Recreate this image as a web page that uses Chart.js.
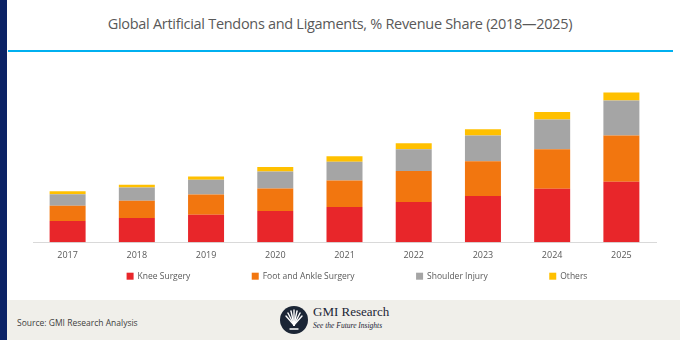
<!DOCTYPE html>
<html>
<head>
<meta charset="utf-8">
<script src="https://cdn.jsdelivr.net/npm/chart.js@4.4.1/dist/chart.umd.min.js"></script>
<style>
    html, body { margin: 0; padding: 0; }
    body { width: 680px; height: 340px; position: relative; overflow: hidden; background: #fff; font-family: 'Open Sans', sans-serif; }
    .stripe { position: absolute; left: 0; top: 0; width: 7px; height: 340px; background: #0b2265; }
    .title { position: absolute; left: 7px; right: 7px; top: 14px; text-align: center; font-size: 14.5px; color: #595959; letter-spacing: -0.3px; }
    .rule { position: absolute; left: 8px; width: 665px; top: 50px; height: 2px; background: #00b0f0; }
    .wrap { position: absolute; left: 20px; top: 60px; width: 650px; height: 236px; }
    .footer { position: absolute; left: 7px; right: 0; top: 300px; height: 40px; background: #f0efea; }
    .source { position: absolute; left: 10px; top: 17px; font-size: 8.5px; color: #404040; }
    .logo { position: absolute; left: 273px; top: 6px; width: 28px; height: 28px; border-radius: 50%; background: #1b2535; }
    .brand { position: absolute; left: 306px; top: 4px; font-family: 'Liberation Serif', serif; font-size: 13px; color: #1b2535; }
    .tag { position: absolute; left: 306px; top: 21px; font-family: 'Liberation Serif', serif; font-style: italic; font-size: 7.5px; color: #1b2535; }
</style>
</head>
<body>
<div class="stripe"></div>
<div class="title">Global Artificial Tendons and Ligaments, % Revenue Share (2018—2025)</div>
<div class="rule"></div>
<div class="wrap"><canvas id="shareChart"></canvas></div>
<div class="footer">
    <div class="source">Source: GMI Research Analysis</div>
    <div class="logo">
        <svg width="28" height="28" viewBox="0 0 28 28">
            <g stroke="#fff" stroke-width="1.4" stroke-linecap="round">
                <line x1="14" y1="19" x2="6" y2="10"/>
                <line x1="14" y1="19" x2="8" y2="7"/>
                <line x1="14" y1="19" x2="11" y2="5"/>
                <line x1="14" y1="19" x2="14" y2="4"/>
                <line x1="14" y1="19" x2="17" y2="5"/>
                <line x1="14" y1="19" x2="20" y2="7"/>
                <line x1="14" y1="19" x2="22" y2="10"/>
                <line x1="10" y1="23" x2="18" y2="23"/>
            </g>
        </svg>
    </div>
    <div class="brand">GMI Research</div>
    <div class="tag">See the Future Insights</div>
</div>
<script>
const years = ['2017', '2018', '2019', '2020', '2021', '2022', '2023', '2024', '2025'];
const kneeSurgery = [21, 24, 27.3, 31, 35, 40, 46, 53, 60];
const footAnkle = [15.3, 17.3, 20, 22.3, 26.3, 30.7, 34.3, 39.3, 46];
const shoulderInjury = [11.4, 13, 14.7, 17, 18.7, 21.6, 25.7, 29.7, 34.7];
const others = [3, 2.7, 3.3, 4.4, 5.3, 6, 6.3, 7.3, 8];

const TEXT = '#595959';

function series(label, data, color) {
    return {
        label,
        data,
        backgroundColor: color,
        borderWidth: 0,
        barPercentage: 0.52,
        categoryPercentage: 1,
    };
}

// legend with wide, even gaps sitting just under the year labels
const spreadLegend = {
    id: 'spreadLegend',
    afterDraw(chart) {
        const { ctx, chartArea } = chart;
        const sets = chart.data.datasets;
        const box = 7;
        const gap = 61.5;
        ctx.save();
        ctx.font = '8.5px "Open Sans"';
        const widths = sets.map((ds) => box + 4 + ctx.measureText(ds.label).width);
        const total = widths.reduce((a, b) => a + b, 0) + gap * (sets.length - 1);
        let x = 337 - total / 2;
        const y = chartArea.bottom + 34;
        ctx.textBaseline = 'middle';
        sets.forEach((ds, i) => {
            ctx.fillStyle = ds.backgroundColor;
            ctx.fillRect(x, y - box / 2, box, box);
            ctx.fillStyle = TEXT;
            ctx.fillText(ds.label, x + box + 4, y);
            x += widths[i] + gap;
        });
        ctx.restore();
    },
};

new Chart(document.getElementById('shareChart').getContext('2d'), {
    type: 'bar',
    data: {
        labels: years,
        datasets: [
            series('Knee Surgery', kneeSurgery, '#e8262a'),
            series('Foot and Ankle Surgery', footAnkle, '#f2760f'),
            series('Shoulder Injury', shoulderInjury, '#a5a5a5'),
            series('Others', others, '#ffc000'),
        ],
    },
    options: {
        responsive: true,
        maintainAspectRatio: false,
        animation: false,
        layout: { padding: { left: 13, right: 14, top: 0, bottom: 27 } },
        plugins: {
            title: { display: false },
            tooltip: { enabled: false },
            legend: { display: false },
        },
        scales: {
            x: {
                stacked: true,
                grid: { display: false, drawTicks: false },
                border: { color: '#d9d9d9', width: 1 },
                ticks: { color: TEXT, font: { family: 'Open Sans', size: 9 }, padding: 8 },
            },
            y: {
                stacked: true,
                display: false,
                min: 0,
                max: 181,
            },
        },
    },
    plugins: [spreadLegend],
});
</script>
</body>
</html>
